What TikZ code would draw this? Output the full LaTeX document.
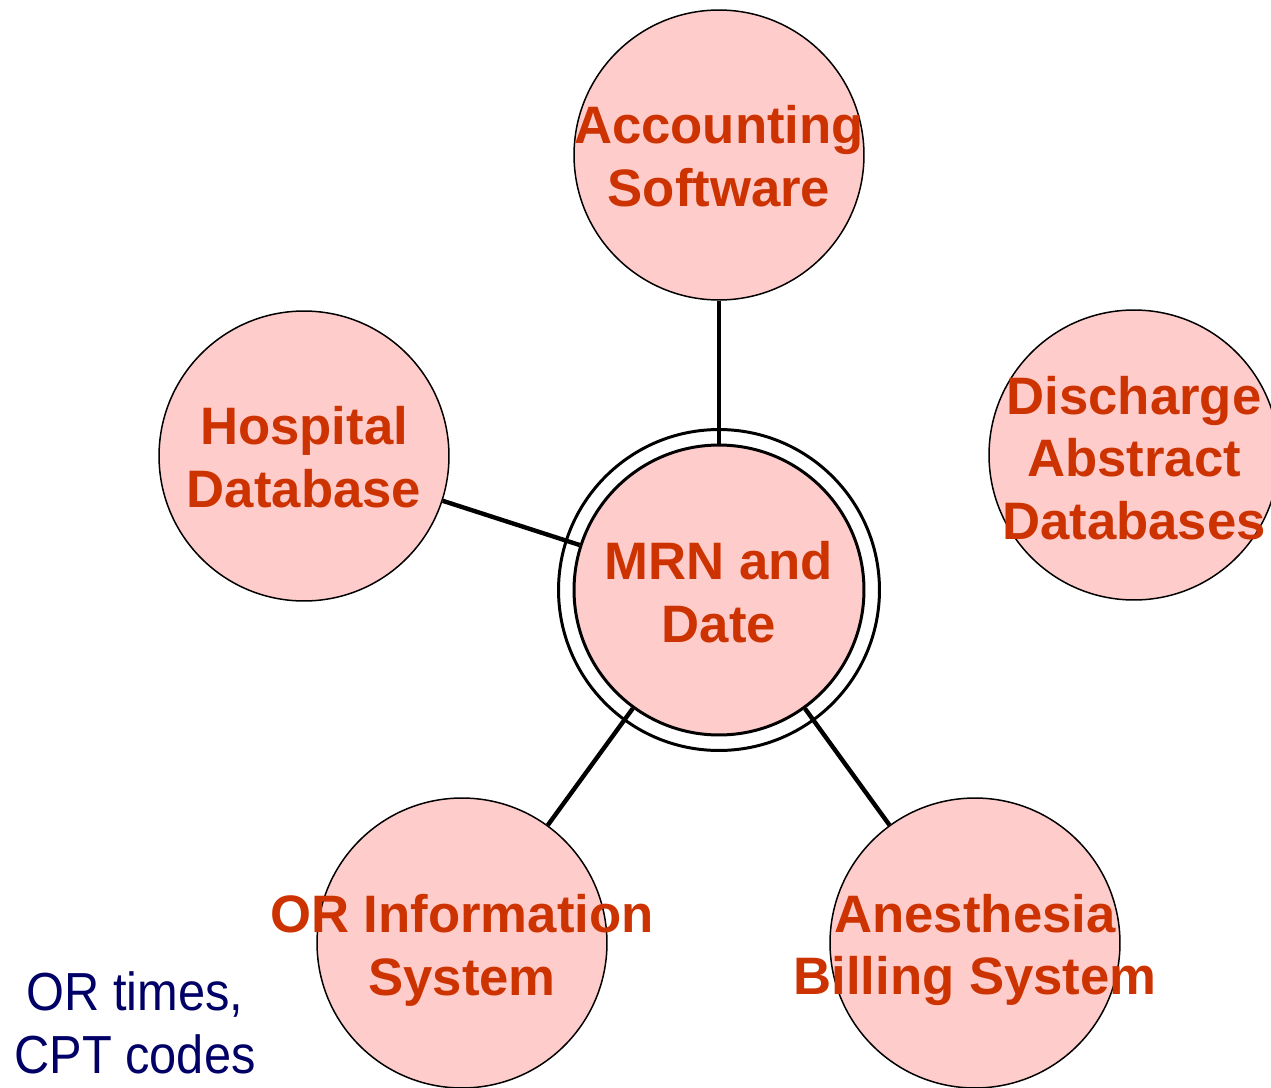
\documentclass[tikz,border=0pt]{standalone}
\usepackage{fontspec}
\setmainfont{Liberation Sans}
\usepackage{graphicx}
\definecolor{pinkfill}{HTML}{FFCCCC}
\definecolor{redtext}{HTML}{CC3300}
\definecolor{navytext}{HTML}{000066}
\tikzset{
  bubble/.style={circle, draw=black, line width=0.85pt, fill=pinkfill, minimum size=5.8cm, inner sep=0pt},
  label text/.style={text=redtext, font=\fontsize{30pt}{35.7pt}\selectfont\bfseries, align=center, inner sep=0pt},
  link/.style={line width=2.5pt, black},
}
\begin{document}
\begin{tikzpicture}[x=0.02cm, y=-0.02cm]
\useasboundingbox (0,0) rectangle (1271,1088);
% outer ring of the hub
\node[circle, draw=black, line width=1.7pt, fill=white, minimum size=6.42cm, inner sep=0pt] (ring) at (719,590) {};
\node[circle, draw=black, line width=1.7pt, fill=pinkfill, minimum size=5.8cm, inner sep=0pt] (mrn) at (719,590) {};
% satellites
\node[bubble] (acc) at (719,155) {};
\node[bubble] (hosp) at (304,456) {};
\node[bubble] (disc) at (1134,455) {};
\node[bubble] (orinfo) at (462,943) {};
\node[bubble] (anes) at (975,943) {};
% connectors
\draw[link] (acc) -- (mrn);
\draw[link] (hosp) -- (mrn);
\draw[link] (orinfo) -- (mrn);
\draw[link] (anes) -- (mrn);
% texts
\node[label text] (mrnT) at (719,592) {MRN and\\Date};
\node[label text] (accT) at (719,156) {Accounting\\Software};
\node[label text] (hospT) at (304,457) {Hospital\\Database};
\node[label text] (discT) at (1134,458) {Discharge\\Abstract\\Databases};
\node[label text] (orT) at (462,950) {OR Information\\System};
\node[label text] (anesT) at (975,950) {Anesthesia\\Billing System};
\node[text=navytext, font=\fontsize{30.5pt}{35.7pt}\selectfont, align=center, inner sep=0pt] (note) at (135,1023) {\scalebox{0.91}[1]{OR times,}\\\scalebox{0.91}[1]{CPT codes}};
\end{tikzpicture}
\end{document}
